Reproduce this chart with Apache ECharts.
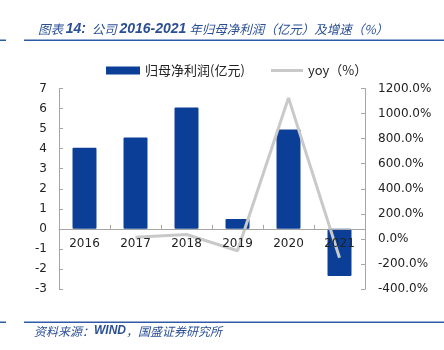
<!DOCTYPE html>
<html><head><meta charset="utf-8">
<script src="https://cdn.jsdelivr.net/npm/echarts@6/dist/echarts.min.js"></script>
<style>html,body{margin:0;padding:0;background:#fff}#c{width:444px;height:350px}</style>
</head><body><div id="c"></div>
<script>
const categories = ['2016','2017','2018','2019','2020','2021'];
const netProfit = [4.05, 4.56, 6.05, 0.49, 4.95, -2.35];
const yoy = [null, 13, 35, -95, 1125, -150];
const leftTicks = {min: -3, max: 7, interval: 1};
const rightTicks = {min: -400, max: 1200, interval: 200};
const seriesNames = ['归母净利润(亿元)', 'yoy（%）'];

const chart = echarts.init(document.getElementById('c'), null, {renderer: 'canvas'});
const blue = '#0b3f97';
const lineGrey = '#c9c9c9';
const axisGrey = '#a6a6a6';
const labelFont = 'DejaVu Sans';
const legendText = {fontFamily: 'Noto Sans CJK SC', fontSize: 13, color: '#222'};
chart.setOption({
  animation: false,
  backgroundColor: '#fff',
  title: {
    text: '{c|图表 }{b|14:}{c|  公司 }{b|2016-2021}{c| 年归母净利润（亿元）及增速（%）}',
    left: 33, top: 17,
    textStyle: {
      rich: {
        c: {fontFamily: 'Noto Sans CJK SC', fontSize: 12.5, fontStyle: 'italic', fontWeight: 'normal', color: '#2b4f95'},
        b: {fontFamily: 'Liberation Sans', fontSize: 14, fontStyle: 'italic', fontWeight: 'bold', color: '#2b4f95'}
      }
    }
  },
  graphic: [
    {type: 'rect', shape: {x: 0, y: 39.5, width: 6, height: 1.5}, style: {fill: '#2f5aa6'}},
    {type: 'rect', shape: {x: 24, y: 39.5, width: 420, height: 1.5}, style: {fill: '#2f5aa6'}},
    {type: 'rect', shape: {x: 0, y: 321.5, width: 6, height: 1.5}, style: {fill: '#2f5aa6'}},
    {type: 'rect', shape: {x: 24, y: 321.5, width: 420, height: 1.5}, style: {fill: '#2f5aa6'}},
    {type: 'text', left: 34, top: 325, style: {
      text: '{c|资料来源：}{b|WIND}{c|，国盛证券研究所}',
      rich: {
        c: {fontFamily: 'Noto Sans CJK SC', fontSize: 12, fontStyle: 'italic', fontWeight: 'normal', fill: '#2b4f95'},
        b: {fontFamily: 'Liberation Sans', fontSize: 12, fontStyle: 'italic', fontWeight: 'bold', fill: '#2b4f95'}
      }
    }}
  ],
  legend: [
    {left: 101, top: 59, itemWidth: 34, itemHeight: 8, textStyle: legendText,
     data: [{name: seriesNames[0], icon: 'rect'}]},
    {left: 266, top: 59, itemWidth: 32, itemHeight: 3, textStyle: legendText,
     data: [{name: seriesNames[1], icon: 'rect', itemStyle: {color: lineGrey}}]}
  ],
  grid: {left: 59, right: 79, top: 88.5, bottom: 61, containLabel: false},
  xAxis: {
    type: 'category', data: categories, z: 10,
    axisLine: {show: true, onZero: false, lineStyle: {color: axisGrey, width: 1}},
    axisTick: {show: true, inside: true, length: 4, lineStyle: {color: axisGrey}},
    axisLabel: {fontFamily: labelFont, fontSize: 12, color: '#222', margin: 9}
  },
  yAxis: [
    {type: 'value', min: leftTicks.min, max: leftTicks.max, interval: leftTicks.interval,
     axisLine: {show: true, lineStyle: {color: axisGrey}},
     axisTick: {show: true, inside: true, length: 4, lineStyle: {color: axisGrey}},
     splitLine: {show: false},
     axisLabel: {fontFamily: labelFont, fontSize: 12, color: '#222', margin: 12}},
    {type: 'value', min: rightTicks.min, max: rightTicks.max, interval: rightTicks.interval,
     axisLine: {show: true, lineStyle: {color: axisGrey}},
     axisTick: {show: true, inside: true, length: 4, lineStyle: {color: axisGrey}},
     splitLine: {show: false},
     axisLabel: {fontFamily: labelFont, fontSize: 12, color: '#222', margin: 13,
       formatter: v => v.toFixed(1) + '%'}}
  ],
  series: [
    {name: seriesNames[0], type: 'bar', data: netProfit, barWidth: '47%', z: 2,
     itemStyle: {color: blue, borderRadius: 1}},
    {name: seriesNames[1], type: 'line', yAxisIndex: 1, data: yoy, z: 3,
     symbol: 'none', connectNulls: false,
     lineStyle: {color: lineGrey, width: 3}, itemStyle: {color: lineGrey}}
  ]
});
// move the category axis (line + labels) to the zero value of the left axis
const zeroY = chart.convertToPixel({yAxisIndex: 0}, 0);
const bottomY = chart.convertToPixel({yAxisIndex: 0}, leftTicks.min);
chart.setOption({xAxis: {offset: -(bottomY - zeroY)}});
</script></body></html>
